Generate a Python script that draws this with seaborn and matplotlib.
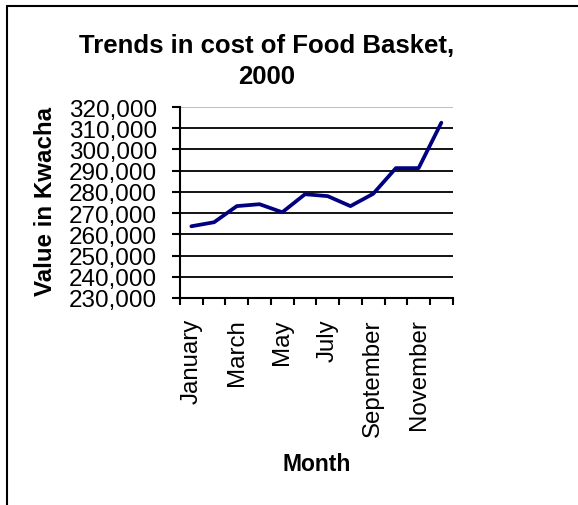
import numpy as np
import pandas as pd
import seaborn as sns
import matplotlib.pyplot as plt
from matplotlib.lines import Line2D
from matplotlib.ticker import StrMethodFormatter, FixedLocator

sns.set_style("white")
plt.rcParams['font.family'] = ['Liberation Sans', 'DejaVu Sans']
plt.rcParams['text.color'] = 'black'
plt.rcParams['axes.labelcolor'] = 'black'
plt.rcParams['xtick.color'] = 'black'
plt.rcParams['ytick.color'] = 'black'

months = ['January', 'February', 'March', 'April', 'May', 'June', 'July',
          'August', 'September', 'October', 'November', 'December']
cost = [263800, 265700, 273300, 274200, 270400, 278900, 278000,
        273300, 279100, 291200, 291200, 312600]
yticks = [230000, 240000, 250000, 260000, 270000, 280000, 290000,
          300000, 310000, 320000]

df = pd.DataFrame({'Month': months, 'Cost': cost})

fig = plt.figure(figsize=(5.78, 5.06), dpi=100)
ax = fig.add_axes([180 / 578, 1 - 299 / 506, 272.7 / 578, 191 / 506])

sns.lineplot(data=df, x='Month', y='Cost', sort=False, color='#000080', lw=2.7, ax=ax)

ax.set_xlim(-0.5, 11.5)
ax.set_ylim(230000, 320000)
ax.set_yticks(yticks)
ax.yaxis.set_major_formatter(StrMethodFormatter('{x:,.0f}'))

# labels every other month, tick marks at the category edges
ax.set_xticks(range(0, 12, 2))
ax.set_xticklabels(months[::2], rotation=90)
ax.xaxis.set_minor_locator(FixedLocator(np.arange(-0.5, 12, 1)))
ax.tick_params(axis='x', which='major', length=0, pad=14.5, labelsize=17.3)
ax.tick_params(axis='x', which='minor', length=5, width=1.5, color='black', direction='out', bottom=True)
ax.tick_params(axis='y', length=6, width=1.5, color='black', direction='out', left=True, pad=10.5, labelsize=17.5)

ax.yaxis.grid(True, color='black', lw=1.3)
ax.xaxis.grid(False)
ax.get_ygridlines()[-1].set_color('#b8b8b8')
for s in ['top', 'right']:
    ax.spines[s].set_visible(False)
for s in ['left', 'bottom']:
    ax.spines[s].set_color('black')
    ax.spines[s].set_linewidth(1.5)

ax.set_ylabel('Value in Kwacha', fontsize=17.4, fontweight='bold', va='center')
ax.yaxis.set_label_coords(-0.495, 0.51)
ax.set_xlabel('Month', fontsize=16.5, fontweight='bold', va='center')
ax.xaxis.set_label_coords(0.502, -0.869)

fig.text(267 / 578, 1 - 61.5 / 506, 'Trends in cost of Food Basket,\n2000',
         ha='center', va='center', fontsize=18.5, fontweight='bold', linespacing=1.42)

# chart frame (only left and top edges visible)
fig.add_artist(Line2D([6.5 / 578, 6.5 / 578], [0, 1 - 6.5 / 506], transform=fig.transFigure, color='black', lw=1.5))
fig.add_artist(Line2D([6.5 / 578, 1], [1 - 6.5 / 506, 1 - 6.5 / 506], transform=fig.transFigure, color='black', lw=1.5))

fig.savefig('out.png', dpi=100)
